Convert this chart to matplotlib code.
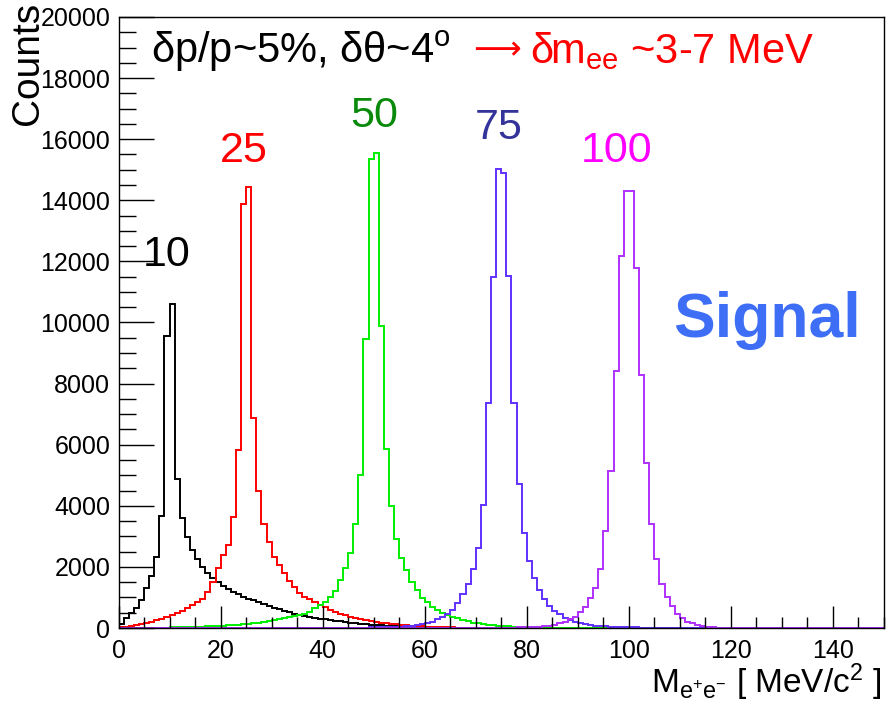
import numpy as np
import matplotlib
matplotlib.use("Agg")
import matplotlib.pyplot as plt
from matplotlib.ticker import MultipleLocator

plt.rcParams['font.family'] = ['Liberation Sans', 'DejaVu Sans']
plt.rcParams['mathtext.fontset'] = 'custom'
plt.rcParams['mathtext.rm'] = 'Liberation Sans'
plt.rcParams['mathtext.it'] = 'Liberation Sans'

# 1 MeV bins from 0 to 150 MeV
n_bins = 150
bin_edges = np.arange(0, n_bins + 1, 1)

# counts per bin, starting at bin 0 (trailing bins are empty)
m10_counts = [130, 320, 480, 670, 920, 1300, 1710, 2310, 3670, 9550,
              10620, 4870, 3590, 2990, 2560, 2250, 2000, 1800, 1640, 1520,
              1380, 1280, 1180, 1100, 1030, 960, 910, 850, 790, 730,
              670, 610, 560, 510, 470, 430, 400, 370, 340, 310,
              280, 260, 240, 220, 200, 180, 160, 145, 130, 115,
              100, 90, 80, 70, 60, 50, 42, 35, 30, 25,
              20, 16, 12, 9, 6, 4, 2]
m25_counts = [20, 40, 70, 100, 130, 160, 200, 250, 300, 360,
              420, 500, 570, 650, 750, 850, 950, 1190, 1500, 1950,
              2400, 2720, 3630, 5830, 13870, 14420, 6860, 4480, 3420, 2800,
              2330, 2060, 1790, 1540, 1330, 1160, 1030, 950, 860, 750,
              680, 590, 530, 460, 430, 370, 340, 310, 260, 230,
              210, 180, 160, 140, 120, 100, 90, 80, 70, 60,
              50, 40, 35, 30, 25, 20, 16, 12, 10, 8,
              6, 4, 3, 2]
m50_counts = [0, 0, 0, 0, 0, 0, 0, 0, 10, 15,
              20, 20, 25, 30, 35, 40, 50, 55, 60, 70,
              80, 90, 100, 110, 120, 140, 160, 180, 200, 230,
              260, 290, 320, 360, 400, 430, 460, 520, 640, 750,
              860, 1030, 1220, 1570, 1950, 2470, 3400, 5000, 9450, 15360,
              15540, 9870, 5850, 4010, 2930, 2300, 1900, 1500, 1240, 990,
              860, 690, 600, 490, 430, 370, 320, 260, 220, 170,
              150, 130, 110, 100, 80, 70, 60, 50, 40, 30,
              30, 20, 20, 10, 10]
m75_counts = [0] * 45 + [
              10, 10, 15, 15, 20,
              20, 25, 30, 35, 40, 45, 60, 80, 110, 140,
              170, 210, 280, 370, 470, 600, 830, 1130, 1430, 1920,
              2620, 4030, 7380, 11480, 15030, 14900, 11520, 7380, 4710, 3120,
              2200, 1640, 1240, 940, 720, 570, 450, 340, 270, 200,
              150, 120, 100, 80, 70, 60, 50, 40, 35, 30,
              25, 20, 15, 12, 10, 8, 6, 5, 4, 3,
              2]
m100_counts = [0] * 70 + [
               5, 5, 5, 5, 8, 10, 10, 15, 20, 20,
               30, 40, 50, 60, 80, 110, 150, 210, 280, 370,
               510, 680, 970, 1300, 1920, 3170, 5150, 8410, 12180, 14300,
               14300, 11800, 8280, 5390, 3400, 2270, 1440, 1030, 720, 470,
               320, 210, 150, 100, 70, 40, 25, 15, 10, 5]

masses = ['10', '25', '50', '75', '100']
line_colors = ['#000000', '#ff0000', '#00ee00', '#6030ff', '#b030ff']
label_colors = ['#000000', '#ff0000', '#0a8a0a', '#333399', '#ff00ff']
label_pos = [(9.5, 11850), (24.5, 15250), (50, 16400), (74.5, 16000), (97.5, 15250)]


def padded(counts):
    out = np.zeros(n_bins)
    out[:len(counts)] = counts
    return out


fig = plt.figure(figsize=(8.88, 7.07), dpi=100)
ax = fig.add_axes([0.1335, 0.1117, 0.862, 0.8643])

all_counts = [m10_counts, m25_counts, m50_counts, m75_counts, m100_counts]
for counts, col in zip(all_counts, line_colors):
    ax.stairs(padded(counts), bin_edges, color=col, lw=1.4)

for m, col, (x, y) in zip(masses, label_colors, label_pos):
    ax.text(x, y, m, color=col, fontsize=31, ha='center', va='baseline')

ax.set_xlim(0, 150)
ax.set_ylim(0, 20000)

ax.xaxis.set_major_locator(MultipleLocator(20))
ax.xaxis.set_minor_locator(MultipleLocator(5))
ax.yaxis.set_major_locator(MultipleLocator(2000))
ax.yaxis.set_minor_locator(MultipleLocator(500))
ax.tick_params(axis='both', which='both', direction='in', top=False, right=False,
               labelsize=18, width=1)
ax.tick_params(axis='y', which='major', length=25, pad=6)
ax.tick_params(axis='y', which='minor', length=12.5)
ax.tick_params(axis='x', which='major', length=16, pad=8)
ax.tick_params(axis='x', which='minor', length=8)
for sp in ax.spines.values():
    sp.set_linewidth(1.0)

# resolution note
ax.text(0.043, 0.925, r'δp/p~5%, δθ~4$^\mathregular{o}$', transform=ax.transAxes,
        fontsize=30, color='black', ha='left', va='baseline')
ax.text(0.463, 0.93, '⟶', transform=ax.transAxes, family='DejaVu Sans',
        fontsize=24, color='#ff0000', ha='left', va='baseline')
ax.text(0.537, 0.925, r'δm$_\mathregular{ee}$ ~3-7 MeV', transform=ax.transAxes,
        fontsize=30, color='#ff0000', ha='left', va='baseline')

ax.text(0.847, 0.476, 'Signal', transform=ax.transAxes, fontsize=45,
        fontweight='bold', color='#3d6ef5', ha='center', va='baseline')

fig.text(0.011, 0.997, 'Counts', rotation=90, ha='left', va='top', fontsize=28)
fig.text(0.993, 0.02, r'M$_\mathregular{e^{+}e^{-}}$ [ MeV/c$^\mathregular{2}$ ]',
         ha='right', va='baseline', fontsize=24)

fig.savefig('out.png', dpi=100)
